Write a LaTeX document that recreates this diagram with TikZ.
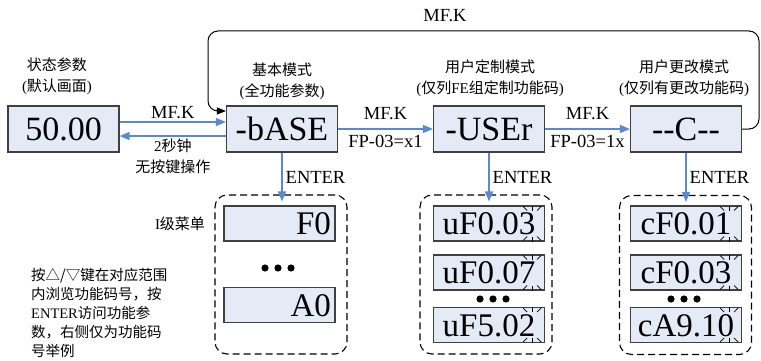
\documentclass[tikz,border=0pt]{standalone}
\usepackage{fontspec}
\setmainfont{Liberation Serif}
\newfontfamily\cjk{Noto Sans CJK SC}
\usetikzlibrary{arrows.meta,positioning}
\definecolor{boxfill}{HTML}{E4EAF6}
\definecolor{boxline}{HTML}{404040}
\definecolor{flow}{HTML}{5B89CF}
\newcommand{\zh}[1]{{\cjk #1}}
\newcommand{\blink}[1]{\foreach \a/\b/\da/\db in {0/-18/0/5,-9/-17/4/4,9/-17/-4/4,0/18/0/-5,-9/17/4/-4,9/17/-4/-4}{\draw[blinkmark] ([xshift=-13pt]#1.east) ++(\a,\b) -- ++(\da,\db);}}
\tikzset{mode/.style={draw=boxline,fill=boxfill,line width=1.2pt,minimum width=111pt,minimum height=46pt,inner sep=0pt,font=\fontsize{34}{34}\selectfont,text height=23pt,text depth=0pt},menu/.style={mode,minimum height=35pt,font=\fontsize{33}{33}\selectfont,text height=22pt},rmenu/.style={menu,text width=103pt,align=right},group/.style={draw,dash pattern=on 7pt off 4pt,line width=1.1pt,rounded corners=12pt,minimum width=132pt,minimum height=159pt},flowarr/.style={-{Triangle[length=10pt,width=8pt]},flow,line width=1.4pt},looparr/.style={-{Triangle[length=9pt,width=7pt]},black,line width=1pt,rounded corners=10pt},lbl/.style={font=\fontsize{18.5}{18.5}\selectfont,inner sep=0pt,text=black},modecap/.style={align=center,inner sep=0pt,text=black,font=\fontsize{15}{21}\selectfont},blinkmark/.style={black,line width=.8pt}}

\begin{document}
\begin{tikzpicture}[x=1pt,y=-1pt]
\useasboundingbox (0,0) rectangle (761,361);
% top row of display modes
\node[mode] (stat) at (63.5,129) {50.00};
\node[mode] (nbase) at (282,129) {-bASE};
\node[mode] (nuser) at (489,129) {-USEr};
\node[mode] (nchg) at (686,129) {-{}-C-{}-};
\node[modecap] (capstat) at (57,76) {\zh{状态参数}\\(\zh{默认画面})};
\node[modecap] (capbase) at (282,81) {\zh{基本模式}\\(\zh{全功能参数})};
\node[modecap] (capuser) at (490,78.5) {\zh{用户定制模式}\\(\zh{仅列}FE\zh{组定制功能码})};
\node[modecap] (capchg) at (684,78.5) {\zh{用户更改模式}\\(\zh{仅列有更改功能码})};
% menus
\node[group] (g1) at (281,274.5) {};\node[group] (g2) at (486,274.5) {};\node[group] (g3) at (685.5,275) {};
\node[rmenu] (f0) at (279.5,223.5) {F0};\node[rmenu] (a0) at (279.5,305) {A0};
\node[menu] (u1) at (489,223.5) {uF0.03};\node[menu] (u2) at (489,272.5) {uF0.07};\node[menu] (u3) at (489,325) {uF5.02};
\node[menu] (c1) at (686,223.5) {cF0.01};\node[menu] (c2) at (686,272.5) {cF0.03};\node[menu] (c3) at (686,325) {cA9.10};
\foreach \n in {u1,u2,u3,c1,c2,c3}{\blink{\n}}
\coordinate (dots1) at (278,268);\coordinate (dots2) at (493,299);\coordinate (dots3) at (684,299);
\foreach \d in {dots1,dots2,dots3}{\foreach \dx in {-13,0,13}{\fill ([xshift=\dx pt]\d) circle (3.6pt);}}
\node[modecap] (lvl) at (180,224) {I\zh{级菜单}};
\node[modecap,align=left,anchor=north west,font=\fontsize{14.5}{19}\selectfont] (note) at (31,268) {\zh{按△/▽键在对应范围}\\\zh{内浏览功能码号，按}\\ENTER\zh{访问功能参}\\\zh{数，右侧仅为功能码}\\\zh{号举例}};
% connectors
\draw[flowarr] ([yshift=7pt]stat.east) -- node[lbl,above=3pt] {MF.K} ([yshift=7pt]nbase.west);
\draw[flowarr] ([yshift=-7pt]nbase.west) -- node[modecap,below=2pt] {2\zh{秒钟}\\\zh{无按键操作}} ([yshift=-7pt]stat.east);
\draw[flowarr] (nbase) -- node[lbl,above=9pt] {MF.K} node[lbl,below=5pt] {FP-03=x1} (nuser);
\draw[flowarr] (nuser) -- node[lbl,above=9pt] {MF.K} node[lbl,below=5pt] {FP-03=1x} (nchg);
\foreach \m/\g in {nbase/g1,nuser/g2,nchg/g3}{\draw[flowarr] (\m.south) -- node[lbl,right=3pt] {ENTER} ([yshift=-7pt]\m.south |- \g.north);}
\coordinate (rt) at (759,31);\coordinate (lt) at (208,31);
\draw[looparr] (nchg.east) -| (rt) -- node[lbl,above=9pt,pos=.57] {MF.K} (lt) |- ([yshift=18pt]nbase.west);
\end{tikzpicture}
\end{document}
